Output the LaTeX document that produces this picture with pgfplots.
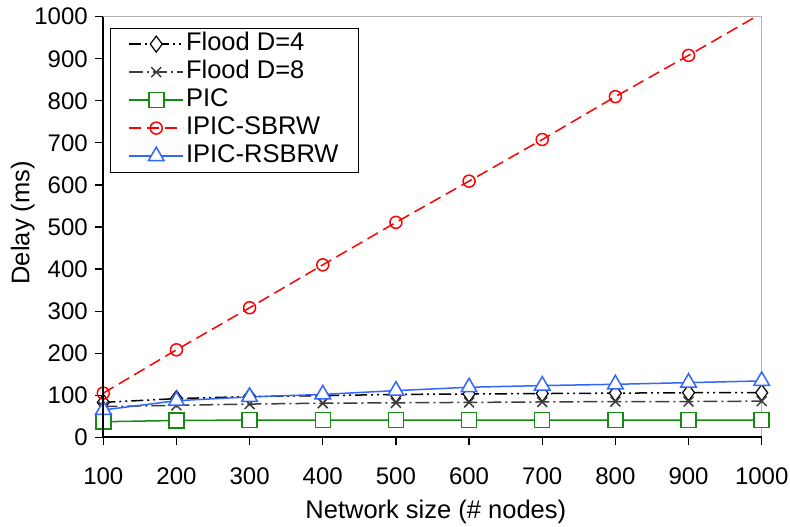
\documentclass[border=0pt]{standalone}
\usepackage{fontspec}
\setmainfont{Liberation Sans}
\usepackage{pgfplots}
\pgfplotsset{compat=1.18}
\definecolor{pgreen}{RGB}{20,140,20}
\definecolor{pblue}{RGB}{51,102,255}
\definecolor{pred}{RGB}{255,0,0}
\definecolor{pgray}{RGB}{60,60,60}
\begin{document}
\begin{tikzpicture}
\useasboundingbox (-103.3pt,-89.7pt) rectangle (686.7pt,437.3pt);
\begin{axis}[
  at={(0pt,0pt)}, anchor=south west,
  scale only axis, width=658.4pt, height=420.6pt,
  xmin=100, xmax=1000, ymin=0, ymax=1000,
  xtick={100,200,...,1000}, ytick={0,100,...,1000},
  xtick pos=left, ytick pos=left,
  tick align=outside, major tick length=8pt,
  tick style={black, line width=1.2pt},
  axis line style={gray!60, line width=0.8pt},
  /pgf/number format/assume math mode=true,
  /pgf/number format/1000 sep={},
  ticklabel style={font=\fontsize{24}{24}\selectfont},
  xticklabel style={yshift=-19pt},
  yticklabel style={xshift=-4pt},
  xlabel={Network size (\# nodes)},
  ylabel={Delay (ms)},
  label style={font=\fontsize{25.5}{26}\selectfont},
  xlabel style={at={(axis description cs:0.505,-0.1926)}, anchor=base},
  ylabel style={at={(axis description cs:-0.1124,0.51)}, anchor=base},
  legend style={at={(0.0102,0.974)}, anchor=north west, draw=black, line width=1pt,
    font=\fontsize{25.5}{28}\selectfont, inner xsep=18pt, inner ysep=2pt,
    nodes={text height=18.6pt, text depth=5pt, inner ysep=2.2pt},
    legend cell align=left, row sep=0pt},
  legend image code/.code={\draw[mark repeat=2,mark phase=2,#1] plot coordinates {(0pt,0pt) (27pt,0pt) (54pt,0pt)};},
  clip=true,
]
\addplot[black, line width=1.5pt, dash pattern=on 12pt off 4pt on 2pt off 4pt on 2pt off 4pt,
  mark=diamond*, mark size=8pt, mark options={solid, fill=white, line width=1.2pt}]
  coordinates {(100,83) (200,92) (300,97) (400,99) (500,102) (600,103) (700,104) (800,105) (900,106) (1000,106)};
\addlegendentry{Flood D=4}
\addplot[pgray, line width=1.5pt, dash pattern=on 14pt off 4pt on 2pt off 4pt,
  mark=x, mark size=7pt, mark options={solid, line width=1.5pt}]
  coordinates {(100,73) (200,76) (300,79) (400,81) (500,82) (600,83) (700,84) (800,85) (900,85) (1000,86)};
\addlegendentry{Flood D=8}
\addplot[pgreen, line width=1.5pt,
  mark=square*, mark size=7.5pt, mark options={solid, fill=white, line width=1.5pt}]
  coordinates {(100,37) (200,40) (300,41) (400,41) (500,41) (600,41) (700,41) (800,41) (900,41) (1000,41)};
\addlegendentry{PIC}
\addplot[pred, line width=1.5pt, dash pattern=on 12pt off 6pt,
  mark=o, mark size=6pt, mark options={solid, fill=white, line width=1.5pt}]
  coordinates {(100,105) (200,208) (300,308) (400,410) (500,511) (600,609) (700,708) (800,810) (900,908) (1000,1008)};
\addlegendentry{IPIC-SBRW}
\addplot[pblue, line width=1.5pt,
  mark=triangle*, mark size=9pt, mark options={solid, fill=white, line width=1.5pt}]
  coordinates {(100,65) (200,87) (300,96) (400,102) (500,111) (600,119) (700,123) (800,126) (900,130) (1000,134)};
\addlegendentry{IPIC-RSBRW}
\end{axis}
\draw[black, line width=2.2pt] (0pt,420.6pt) -- (0pt,0pt) -- (658.4pt,0pt);
\end{tikzpicture}
\end{document}
